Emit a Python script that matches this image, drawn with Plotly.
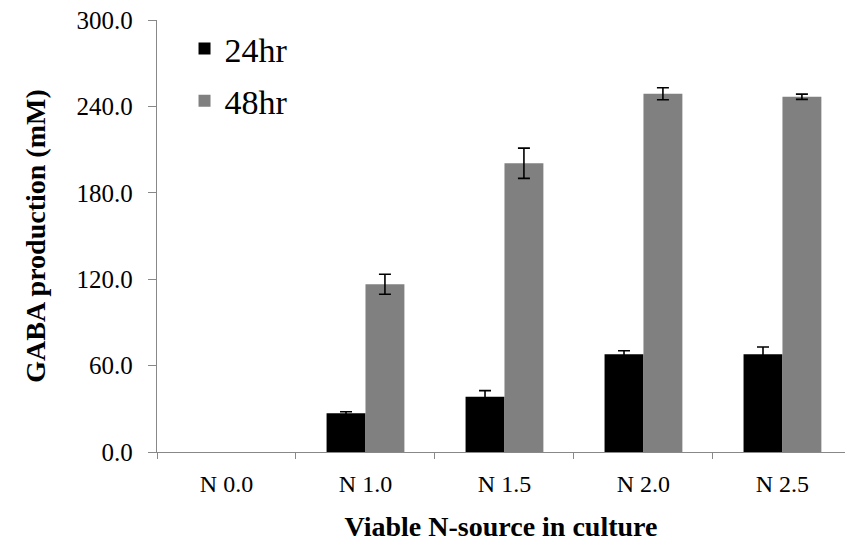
import plotly.graph_objects as go

categories = ["N 0.0", "N 1.0", "N 1.5", "N 2.0", "N 2.5"]
vals_24 = [0.0, 26.9, 38.4, 67.8, 67.8]
err_24 = [0.0, 1.1, 4.2, 2.5, 5.1]
vals_48 = [0.0, 116.5, 200.5, 248.8, 246.7]
err_48 = [0.0, 6.9, 10.5, 4.2, 1.8]
y_ticks = [0, 60, 120, 180, 240, 300]

SERIF = "Times New Roman"


def drawn(vals):
    # zero-height bars carry no visible mark (and no error cap)
    return [v if v else None for v in vals]


fig = go.Figure()
fig.add_trace(go.Bar(
    x=categories, y=drawn(vals_24), name="24hr", legendgroup="a",
    marker=dict(color="#000000", line=dict(width=0)),
    error_y=dict(type="data", array=err_24, color="#000000", thickness=1.6, width=6),
))
fig.add_trace(go.Bar(
    x=categories, y=drawn(vals_48), name="48hr", legendgroup="b",
    marker=dict(color="#808080", line=dict(width=0)),
    error_y=dict(type="data", array=err_48, color="#000000", thickness=1.6, width=6),
))

fig.update_layout(
    width=845, height=542,
    margin=dict(l=157, r=0, t=20, b=90),
    paper_bgcolor="white", plot_bgcolor="white",
    barmode="group", bargap=0.44, bargroupgap=0,
    font=dict(family=SERIF, color="#000000"),
    showlegend=True,
    legend=dict(
        x=0.04, y=1.0, xanchor="left", yanchor="top",
        font=dict(family=SERIF, size=34, color="#000000"),
        bgcolor="rgba(0,0,0,0)", tracegroupgap=5,
    ),
)

fig.update_xaxes(
    type="category",
    range=[-0.5, 4.45],
    showline=True, linecolor="#888888", linewidth=1.3,
    ticks="outside", tickson="boundaries", ticklen=6, tickcolor="#888888", tickwidth=1.3,
    tickfont=dict(family=SERIF, size=24, color="#000000"),
    ticklabelstandoff=10,
    showgrid=False, zeroline=False,
    title=dict(text="<b>Viable N-source in culture</b>",
               font=dict(family=SERIF, size=28, color="#000000"), standoff=20),
)
fig.update_yaxes(
    range=[0, 300],
    tickvals=y_ticks, tickformat=".1f",
    showline=True, linecolor="#888888", linewidth=1.3,
    ticks="outside", ticklen=8, tickcolor="#888888", tickwidth=1.3,
    tickfont=dict(family=SERIF, size=25, color="#000000"),
    ticklabelstandoff=10,
    showgrid=False, zeroline=False,
    title=dict(text="<b>GABA production (mM)</b>",
               font=dict(family=SERIF, size=28, color="#000000"), standoff=22),
)

fig.write_html("out.html")
